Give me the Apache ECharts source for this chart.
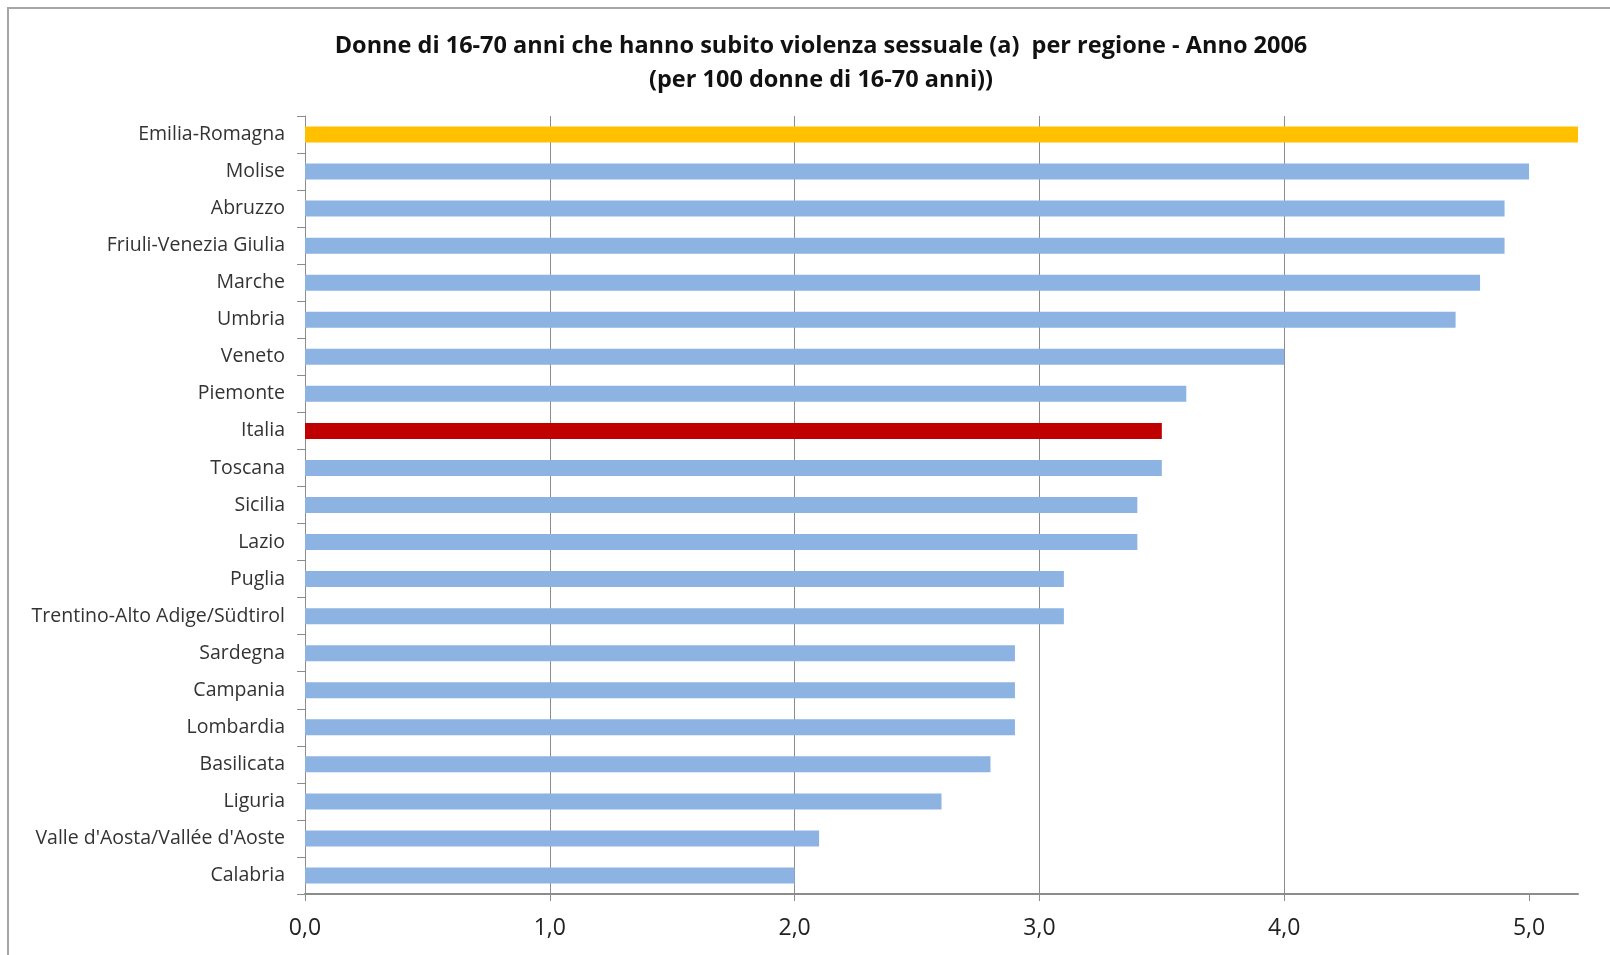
<!DOCTYPE html>
<html>
<head>
<meta charset="utf-8">
<script src="https://cdn.jsdelivr.net/npm/echarts@6/dist/echarts.min.js"></script>
<style>
  html, body { margin: 0; padding: 0; background: #fff; }
  #frame { position: absolute; left: 7px; top: 7px; width: 1620px; height: 960px;
           border-left: 2px solid #a6a6a6; border-top: 2px solid #a6a6a6; }
  #chart { position: absolute; left: 0; top: 0; width: 1610px; height: 955px; }
</style>
</head>
<body>
<div id="frame"></div>
<div id="chart"></div>
<script>
// Regions, ordered from highest to lowest share
const regions = [
  'Emilia-Romagna', 'Molise', 'Abruzzo', 'Friuli-Venezia Giulia', 'Marche',
  'Umbria', 'Veneto', 'Piemonte', 'Italia', 'Toscana', 'Sicilia', 'Lazio',
  'Puglia', 'Trentino-Alto Adige/Südtirol', 'Sardegna', 'Campania',
  'Lombardia', 'Basilicata', 'Liguria', "Valle d'Aosta/Vallée d'Aoste", 'Calabria'
];
// Women 16-70 who suffered sexual violence, per 100 women
const values = [
  5.2, 5.0, 4.9, 4.9, 4.8,
  4.7, 4.0, 3.6, 3.5, 3.5, 3.4, 3.4,
  3.1, 3.1, 2.9, 2.9,
  2.9, 2.8, 2.6, 2.1, 2.0
];
const xTicks = [0, 1, 2, 3, 4, 5];

const highlight = { 'Emilia-Romagna': '#ffc000', 'Italia': '#c00000' };
const baseColor = '#8db3e2';

const chart = echarts.init(document.getElementById('chart'));
const font = "'Open Sans', 'DejaVu Sans', sans-serif";

chart.setOption({
  animation: false,
  title: {
    text: 'Donne di 16-70 anni che hanno subito violenza sessuale (a)  per regione - Anno 2006\n(per 100 donne di 16-70 anni))',
    left: 816,
    textAlign: 'center',
    top: 24,
    textStyle: {
      fontFamily: font, fontWeight: 'bold', fontSize: 23.5,
      color: '#111', lineHeight: 34
    }
  },
  grid: { left: 305, right: 32, top: 116, bottom: 61, containLabel: false },
  xAxis: {
    type: 'value', min: 0, max: 5.2, interval: 1,
    axisLine: { show: true, lineStyle: { color: '#8c8c8c', width: 2 } },
    axisTick: { show: true, length: 7, customValues: xTicks, lineStyle: { color: '#8c8c8c' } },
    splitLine: { show: true, showMaxLine: false, lineStyle: { color: '#8c8c8c', width: 1 } },
    axisLabel: {
      customValues: xTicks,
      margin: 23, fontFamily: font, fontSize: 23, color: '#222',
      formatter: v => (v % 1 === 0 ? v.toFixed(1).replace('.', ',') : '')
    }
  },
  yAxis: {
    type: 'category', inverse: true, data: regions,
    axisLine: { show: true, lineStyle: { color: '#8c8c8c', width: 1 } },
    axisTick: { show: true, length: 8, lineStyle: { color: '#8c8c8c' } },
    axisLabel: { margin: 20, fontFamily: font, fontSize: 19.5, color: '#333' }
  },
  series: [{
    type: 'bar',
    barWidth: 16,
    data: values.map((v, i) => ({
      value: v,
      itemStyle: { color: highlight[regions[i]] || baseColor }
    }))
  }]
});
</script>
</body>
</html>
